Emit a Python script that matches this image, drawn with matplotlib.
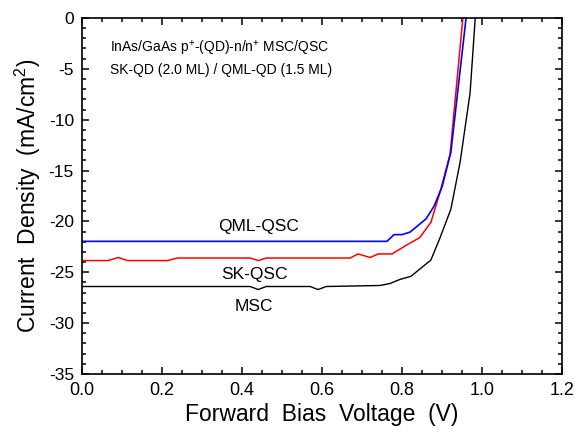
import matplotlib
matplotlib.use('Agg')
from matplotlib import pyplot as plt
from matplotlib.ticker import MultipleLocator

plt.rcParams['font.family'] = ['Liberation Sans', 'DejaVu Sans']
plt.rcParams['mathtext.fontset'] = 'custom'
plt.rcParams['mathtext.rm'] = 'Liberation Sans'
plt.rcParams['axes.unicode_minus'] = False

# MSC (black)
v_msc = [0.0, 0.42, 0.44, 0.46, 0.57, 0.59, 0.61, 0.745, 0.77, 0.795, 0.822,
         0.872, 0.894, 0.922, 0.945, 0.97, 0.983]
j_msc = [-26.4, -26.4, -26.7, -26.4, -26.4, -26.7, -26.4, -26.3, -26.1, -25.7,
         -25.4, -23.8, -21.7, -18.8, -14.2, -7.4, 0.0]

# SK-QSC (red)
v_sk = [0.0, 0.065, 0.09, 0.113, 0.213, 0.238, 0.42, 0.44, 0.46, 0.67, 0.69,
        0.72, 0.74, 0.775, 0.81, 0.844, 0.872, 0.895, 0.92, 0.952]
j_sk = [-23.85, -23.85, -23.55, -23.85, -23.85, -23.6, -23.6, -23.85, -23.6,
        -23.6, -23.2, -23.55, -23.2, -23.2, -22.35, -21.6, -20.1, -17.1, -13.4, 0.0]

# QML-QSC (blue)
v_qml = [0.0, 0.762, 0.78, 0.80, 0.82, 0.86, 0.88, 0.90, 0.922, 0.960]
j_qml = [-21.96, -21.96, -21.3, -21.3, -21.05, -19.75, -18.5, -16.6, -13.2, 0.0]

fig = plt.figure(figsize=(5.77, 4.33), dpi=100)
ax = fig.add_axes([0.1426, 0.1363, 0.8314, 0.8222])

ax.plot(v_msc, j_msc, c='black', lw=1)
ax.plot(v_sk, j_sk, c='red', lw=1.1)
ax.plot(v_qml, j_qml, c='blue', lw=1.2)

ax.text(0.44, -20.55, 'QML-QSC', fontsize=12.5, ha='center', va='center')
ax.text(0.43, -25.2, 'SK-QSC', fontsize=12.5, ha='center', va='center')
ax.text(0.43, -28.4, 'MSC', fontsize=12.5, ha='center', va='center')
ax.text(0.07, -3.9, 'InAs/GaAs p$^{+}$-(QD)-n/n$^{+}$ MSC/QSC\nSK-QD (2.0 ML) / QML-QD (1.5 ML)',
        fontsize=10, ha='left', va='center', linespacing=1.45)

ax.set_xlim(0, 1.2)
ax.set_ylim(-35, 0)
ax.xaxis.set_major_locator(MultipleLocator(0.2))
ax.xaxis.set_minor_locator(MultipleLocator(0.05))
ax.yaxis.set_major_locator(MultipleLocator(5))
ax.yaxis.set_minor_locator(MultipleLocator(1))
ax.xaxis.set_major_formatter(plt.FormatStrFormatter('%.1f'))

ax.tick_params(axis='both', which='both', direction='in', top=True, right=True,
               width=1.1)
ax.tick_params(axis='x', which='major', labelsize=13, pad=6)
ax.tick_params(axis='y', which='major', labelsize=12.5, pad=6)
ax.tick_params(which='major', length=5)
ax.tick_params(which='minor', length=2.7)
for s in ax.spines.values():
    s.set_linewidth(1.2)

ax.set_xlabel('Forward  Bias  Voltage  (V)', fontsize=16.5, labelpad=3)
ax.set_ylabel('Current  Density  (mA/cm$^2$)', fontsize=16.5, labelpad=4)

fig.savefig('out.png', dpi=100)
